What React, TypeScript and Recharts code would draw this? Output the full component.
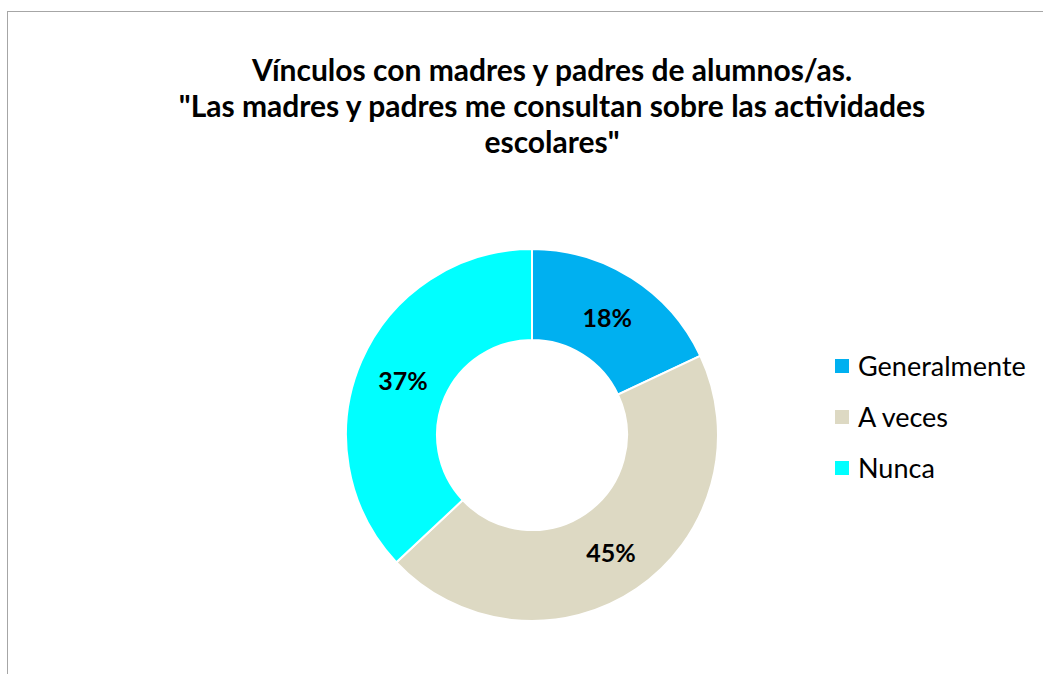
import React from "react";
import { PieChart, Pie, Cell, Legend } from "recharts";

const categories = ["Generalmente", "A veces", "Nunca"];
const values = [18, 45, 37];
const colors = ["#00B0F0", "#DDD9C3", "#00FFFF"];
const titleLines = [
  "Vínculos con madres y padres de alumnos/as.",
  "\"Las madres y padres me consultan sobre las actividades",
  "escolares\"",
];

const data = categories.map((name, i) => ({ name, value: values[i] }));
const FONT = "Lato, 'Open Sans', sans-serif";
const RAD = Math.PI / 180;

const renderLabel = (props: any) => {
  const { cx, cy, midAngle, innerRadius, outerRadius, percent } = props;
  const r = (innerRadius + outerRadius) / 2;
  const x = cx + r * Math.cos(-midAngle * RAD);
  const y = cy + r * Math.sin(-midAngle * RAD);
  return (
    <text
      x={x}
      y={y + 1}
      textAnchor="middle"
      dominantBaseline="central"
      fontFamily={FONT}
      fontWeight={700}
      fontSize={25}
      fill="#000"
    >
      {`${Math.round(percent * 100)}%`}
    </text>
  );
};

const renderLegend = () => (
  <div style={{ fontFamily: FONT, fontSize: 27, color: "#000" }}>
    {data.map((d, i) => (
      <div
        key={d.name}
        style={{ display: "flex", alignItems: "center", height: 51 }}
      >
        <span
          style={{
            display: "inline-block",
            width: 14,
            height: 14,
            background: colors[i],
            marginRight: 9,
          }}
        />
        <span>{d.name}</span>
      </div>
    ))}
  </div>
);

export default function App() {
  return (
    <div
      style={{
        position: "absolute",
        left: 0,
        top: 0,
        width: 1043,
        height: 674,
        overflow: "hidden",
        background: "#fff",
      }}
    >
      <div
        style={{
          position: "absolute",
          left: 7,
          top: 11,
          width: 1200,
          height: 800,
          borderTop: "1px solid #A6A6A6",
          borderLeft: "1px solid #A6A6A6",
        }}
      />
      <div
        style={{
          position: "absolute",
          left: 0,
          top: 51,
          width: 1104,
          textAlign: "center",
          fontFamily: FONT,
          fontWeight: 700,
          fontSize: 30,
          lineHeight: "36px",
          color: "#000",
        }}
      >
        {titleLines.map((t) => (
          <div key={t}>{t}</div>
        ))}
      </div>
      <div style={{ position: "absolute", left: 0, top: 0 }}>
        <PieChart width={1043} height={674}>
          <Pie
            data={data}
            dataKey="value"
            nameKey="name"
            cx={527}
            cy={430}
            innerRadius={95}
            outerRadius={186}
            startAngle={90}
            endAngle={-270}
            stroke="#fff"
            strokeWidth={2}
            label={renderLabel}
            labelLine={false}
            isAnimationActive={false}
          >
            {data.map((d, i) => (
              <Cell key={d.name} fill={colors[i]} />
            ))}
          </Pie>
          <Legend
            content={renderLegend}
            layout="vertical"
            wrapperStyle={{ position: "absolute", left: 835, top: 340, width: 210 }}
          />
        </PieChart>
      </div>
    </div>
  );
}
